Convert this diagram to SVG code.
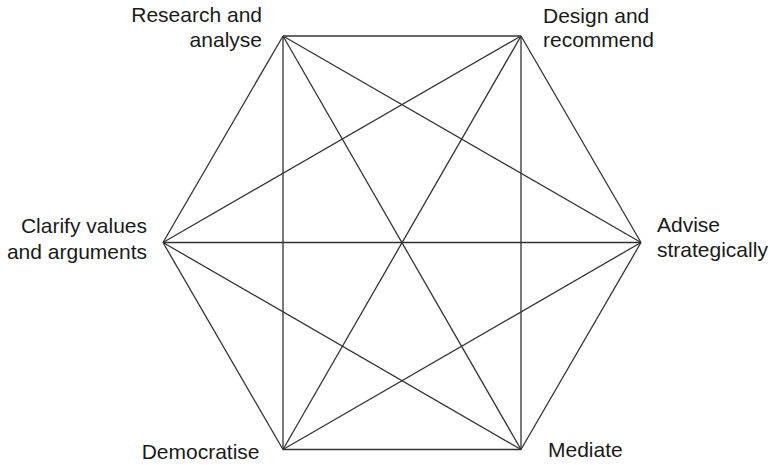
<svg xmlns="http://www.w3.org/2000/svg" width="770" height="465" viewBox="0 0 770 465">
<style>
.e{stroke:#333;stroke-width:1.3;fill:none}
text{font-family:"Liberation Sans",Arial,sans-serif;font-size:21px;fill:#1a1a1a}
.r{text-anchor:end}
</style>
<rect width="770" height="465" fill="#fff"/>
<g id="connectors">
<line class="e" x1="283" y1="36" x2="521" y2="36"/>
<line class="e" x1="283" y1="36" x2="641" y2="242.5"/>
<line class="e" x1="283" y1="36" x2="521" y2="449.5"/>
<line class="e" x1="283" y1="36" x2="283" y2="449.5"/>
<line class="e" x1="283" y1="36" x2="163" y2="242.5"/>
<line class="e" x1="521" y1="36" x2="641" y2="242.5"/>
<line class="e" x1="521" y1="36" x2="521" y2="449.5"/>
<line class="e" x1="521" y1="36" x2="283" y2="449.5"/>
<line class="e" x1="521" y1="36" x2="163" y2="242.5"/>
<line class="e" x1="641" y1="242.5" x2="521" y2="449.5"/>
<line class="e" x1="641" y1="242.5" x2="283" y2="449.5"/>
<line class="e" x1="641" y1="242.5" x2="163" y2="242.5"/>
<line class="e" x1="521" y1="449.5" x2="283" y2="449.5"/>
<line class="e" x1="521" y1="449.5" x2="163" y2="242.5"/>
<line class="e" x1="283" y1="449.5" x2="163" y2="242.5"/>
</g>
<g id="research">
<text class="r" x="262" y="21.5">Research and</text>
<text class="r" x="262" y="47">analyse</text>
</g>
<g id="design">
<text x="543" y="22.5">Design and</text>
<text x="543" y="47">recommend</text>
</g>
<g id="clarify">
<text class="r" x="147" y="233">Clarify values</text>
<text class="r" x="147" y="259">and arguments</text>
</g>
<g id="advise">
<text x="657" y="232">Advise</text>
<text x="657" y="257">strategically</text>
</g>
<g id="democratise">
<text class="r" x="259.5" y="458.5">Democratise</text>
</g>
<g id="mediate">
<text x="548" y="456.5">Mediate</text>
</g>
</svg>
